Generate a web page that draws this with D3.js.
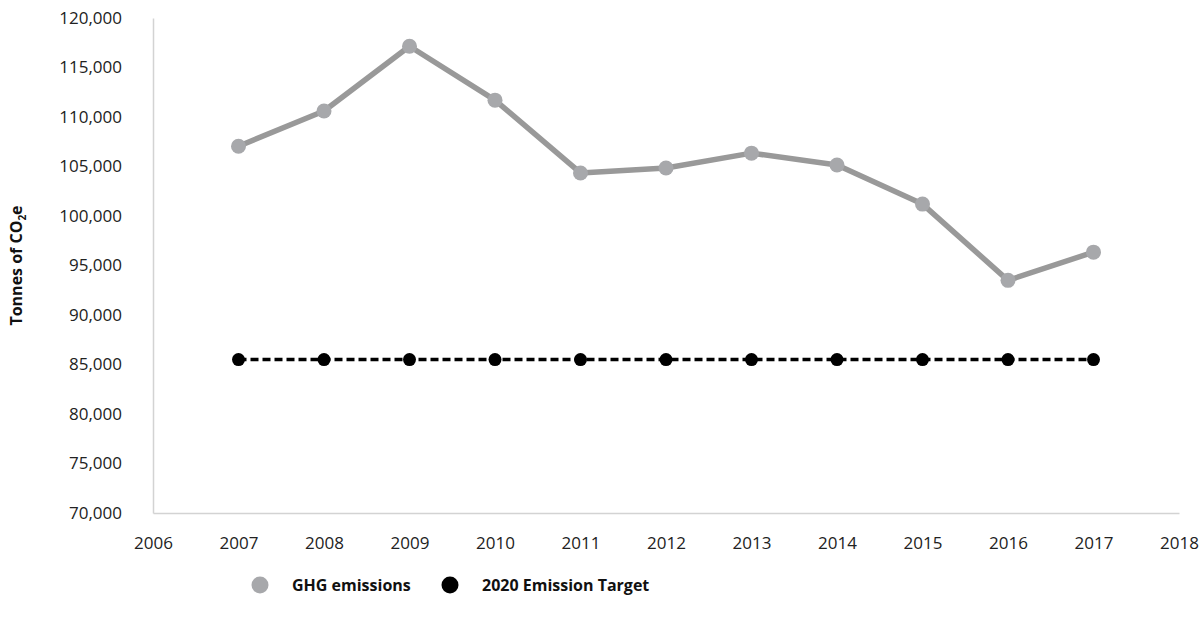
<!DOCTYPE html>
<html>
<head>
<meta charset="utf-8">
<script src="https://cdn.jsdelivr.net/npm/d3@7"></script>
<style>
  body { margin: 0; background: #fff; }
  svg { display: block; font-family: 'Open Sans', 'Noto Sans', sans-serif; }
  .tick text { font-family: 'Open Sans', 'Noto Sans', sans-serif; font-size: 17px; fill: #222; }
</style>
</head>
<body>
<div id="wrapper"></div>
<script>
const years = [2007, 2008, 2009, 2010, 2011, 2012, 2013, 2014, 2015, 2016, 2017];
const ghgEmissions = [107050, 110600, 117150, 111700, 104350, 104850, 106350, 105150, 101200, 93500, 96350];
const emissionTarget = [85500, 85500, 85500, 85500, 85500, 85500, 85500, 85500, 85500, 85500, 85500];
const xTicks = [2006, 2007, 2008, 2009, 2010, 2011, 2012, 2013, 2014, 2015, 2016, 2017, 2018];
const yTicks = [70000, 75000, 80000, 85000, 90000, 95000, 100000, 105000, 110000, 115000, 120000];
const seriesNames = ['GHG emissions', '2020 Emission Target'];

function drawChart() {
  let dimensions = {
    width: 1202,
    height: 624,
    margin: { top: 18, right: 23, bottom: 111, left: 153 },
  };
  dimensions.boundedWidth =
    dimensions.width - dimensions.margin.left - dimensions.margin.right;
  dimensions.boundedHeight =
    dimensions.height - dimensions.margin.top - dimensions.margin.bottom;

  const wrapper = d3.select('#wrapper')
    .append('svg')
    .attr('width', dimensions.width)
    .attr('height', dimensions.height);

  const bounds = wrapper.append('g')
    .attr('transform', `translate(${dimensions.margin.left},${dimensions.margin.top})`);

  const xScale = d3.scaleLinear()
    .domain([2006, 2018])
    .range([0, dimensions.boundedWidth]);

  const yScale = d3.scaleLinear()
    .domain([70000, 120000])
    .range([dimensions.boundedHeight, 0]);

  // axes
  const yAxis = bounds.append('g')
    .call(d3.axisLeft(yScale).tickValues(yTicks).tickFormat(d3.format(',')).tickSize(0).tickPadding(31));
  yAxis.select('.domain').attr('stroke', '#d3d3d3').attr('stroke-width', 1.5);

  const xAxis = bounds.append('g')
    .attr('transform', `translate(0,${dimensions.boundedHeight})`)
    .call(d3.axisBottom(xScale).tickValues(xTicks).tickFormat(d3.format('d')).tickSize(0).tickPadding(24));
  xAxis.select('.domain').attr('stroke', '#d3d3d3').attr('stroke-width', 1.5);

  // target series
  const targetData = years.map((y, i) => ({ x: y, y: emissionTarget[i] }));
  const ghgData = years.map((y, i) => ({ x: y, y: ghgEmissions[i] }));
  const line = d3.line().x(d => xScale(d.x)).y(d => yScale(d.y));

  bounds.append('path')
    .datum(targetData)
    .attr('d', line)
    .attr('fill', 'none')
    .attr('stroke', '#000')
    .attr('stroke-width', 3.5)
    .attr('stroke-dasharray', '8,4');

  bounds.selectAll('.target-dot')
    .data(targetData)
    .join('circle')
    .attr('class', 'target-dot')
    .attr('cx', d => xScale(d.x))
    .attr('cy', d => yScale(d.y))
    .attr('r', 6.5)
    .attr('fill', '#000');

  // ghg series
  bounds.append('path')
    .datum(ghgData)
    .attr('d', line)
    .attr('fill', 'none')
    .attr('stroke', '#999999')
    .attr('stroke-width', 5.5)
    .attr('stroke-linejoin', 'round');

  bounds.selectAll('.ghg-dot')
    .data(ghgData)
    .join('circle')
    .attr('class', 'ghg-dot')
    .attr('cx', d => xScale(d.x))
    .attr('cy', d => yScale(d.y))
    .attr('r', 7.5)
    .attr('fill', '#a7a8ab');

  // y axis title
  const yTitle = wrapper.append('text')
    .attr('transform', `translate(22,${dimensions.margin.top + dimensions.boundedHeight / 2}) rotate(-90)`)
    .attr('text-anchor', 'middle')
    .style('font-size', '16px')
    .style('font-weight', 'bold')
    .style('fill', '#111');
  yTitle.append('tspan').text('Tonnes of CO');
  yTitle.append('tspan').attr('dy', 4).style('font-size', '10px').text('2');
  yTitle.append('tspan').attr('dy', -4).text('e');

  // legend
  const legendColors = ['#a7a8ab', '#000'];
  const legendX = [260, 450];
  const legend = wrapper.append('g').attr('transform', 'translate(0,585)');
  const items = legend.selectAll('g')
    .data(seriesNames)
    .join('g')
    .attr('transform', (d, i) => `translate(${legendX[i]},0)`);
  items.append('circle')
    .attr('r', 8.5)
    .attr('fill', (d, i) => legendColors[i]);
  items.append('text')
    .attr('x', 32)
    .attr('dy', '0.35em')
    .style('font-size', '16px')
    .style('font-weight', 'bold')
    .style('fill', '#111')
    .text(d => d);
}

drawChart();
</script>
</body>
</html>
